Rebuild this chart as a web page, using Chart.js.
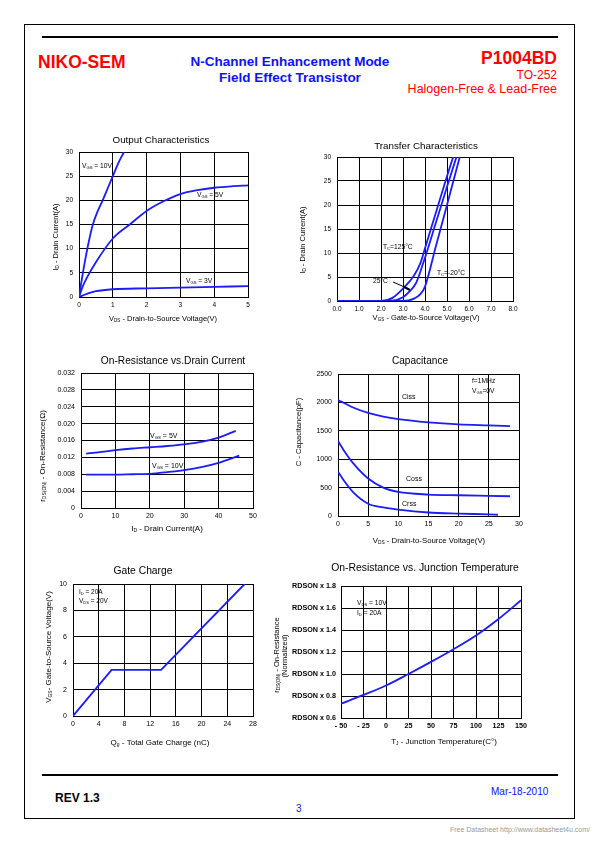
<!DOCTYPE html>
<html><head><meta charset="utf-8">
<script src="https://cdn.jsdelivr.net/npm/chart.js@4.4.1/dist/chart.umd.min.js"></script>
<style>
html,body{margin:0;padding:0;background:#fff;}
#page{position:relative;width:595px;height:842px;overflow:hidden;font-family:"Liberation Sans",Arial,sans-serif;}
.abs{position:absolute;white-space:nowrap;line-height:1;}
canvas{position:absolute;}
</style></head><body><div id="page">
<div class="abs" style="left:24px;top:24px;width:549px;height:793px;border:1px solid #000;"></div>
<div class="abs" style="left:42px;top:36px;width:516px;height:2px;background:#000;"></div>
<div class="abs" style="left:42px;top:774px;width:516px;height:2px;background:#000;"></div>
<div class="abs" style="left:38px;top:54px;font-size:17.5px;font-weight:bold;color:#ff0000;">NIKO-SEM</div>
<div class="abs" style="left:160px;width:260px;text-align:center;top:55px;font-size:13.5px;font-weight:bold;color:#1010ff;">N-Channel Enhancement Mode</div>
<div class="abs" style="left:160px;width:260px;text-align:center;top:71px;font-size:13.5px;font-weight:bold;color:#1010ff;">Field Effect Transistor</div>
<div class="abs" style="right:38px;top:50px;font-size:17.5px;font-weight:bold;color:#ff0000;">P1004BD</div>
<div class="abs" style="right:38px;top:69px;font-size:12px;color:#ff0000;">TO-252</div>
<div class="abs" style="right:38px;top:83px;font-size:12.5px;color:#ff0000;">Halogen-Free &amp; Lead-Free</div>
<div class="abs" style="left:55px;top:792px;font-size:12px;font-weight:bold;color:#000;">REV 1.3</div>
<div class="abs" style="left:296px;top:804px;font-size:10px;color:#1010ff;">3</div>
<div class="abs" style="left:491px;top:787px;font-size:10px;color:#1010ff;">Mar-18-2010</div>
<div class="abs" style="right:5px;top:826px;font-size:7px;color:#999;">Free Datasheet http://www.datasheet4u.com/</div>
</div>
<script>
// ---------- data ----------
// Output Characteristics
const outVds10 = [0, 0.1, 0.2, 0.3, 0.41, 0.55, 0.7, 0.85, 1.0, 1.15, 1.33];
const outId10  = [0, 4.4, 8.3, 11.8, 15, 17.7, 20, 22.5, 25, 27.5, 30];
const outVds5  = [0, 0.1, 0.25, 0.5, 1.0, 1.5, 2.0, 2.5, 3.0, 3.5, 4.0, 4.5, 5.0];
const outId5   = [0, 2, 4.2, 7.2, 12.1, 15, 17.8, 19.8, 21.3, 22.1, 22.6, 22.9, 23.1];
const outVds3  = [0, 0.25, 0.5, 1.0, 2.0, 3.0, 4.0, 5.0];
const outId3   = [0, 0.7, 1.2, 1.6, 1.8, 1.95, 2.1, 2.25];
// Transfer Characteristics
const trVgs125 = [0, 2.0, 2.5, 3.0, 3.5, 3.8, 4.0, 4.5, 5.0, 5.28];
const trId125  = [0, 0, 0.6, 2.6, 5.3, 8, 11, 18.5, 26, 30];
const trVgs25  = [0, 2.4, 3.0, 3.3, 3.6, 3.92, 4.5, 5.0, 5.43];
const trId25   = [0, 0, 0.8, 2.0, 3.8, 7.9, 16.4, 23.8, 30];
const trVgsM20 = [0, 3.0, 3.5, 3.8, 4.0, 4.5, 5.0, 5.58];
const trIdM20  = [0, 0, 0.5, 1.5, 3.0, 11.5, 20, 30];
// On-Resistance vs Drain Current
const rdsId5   = [1.5, 5, 10, 15, 20, 25, 30, 35, 40, 45];
const rdsVgs5  = [0.0129, 0.0132, 0.0137, 0.0141, 0.0144, 0.0147, 0.0151, 0.0157, 0.0167, 0.0183];
const rdsId10  = [1.5, 5, 10, 15, 20, 25, 30, 35, 40, 46];
const rdsVgs10 = [0.0079, 0.0079, 0.0079, 0.0080, 0.0081, 0.0085, 0.0090, 0.0097, 0.0107, 0.0124];
// Capacitance
const capVds   = [0, 1, 2.5, 5, 7.5, 10, 15, 20, 25, 28.5];
const cissPF   = [2040, 1990, 1910, 1815, 1750, 1705, 1648, 1612, 1594, 1582];
const cossPF   = [1320, 1150, 930, 660, 500, 424, 378, 365, 355, 348];
const crssVds  = [0, 1, 2.5, 5, 7.5, 10, 15, 20, 25, 26.5];
const crssPF   = [780, 620, 420, 215, 150, 112, 62, 42, 28, 22];
// Gate Charge
const gateQg   = [0, 6, 13.7, 26.7];
const gateVgs  = [0, 3.5, 3.5, 10];
// On-Resistance vs Junction Temperature
const tempTj   = [-50, -25, 0, 25, 50, 75, 100, 125, 150];
const tempRn   = [0.73, 0.81, 0.895, 1.0, 1.11, 1.225, 1.35, 1.5, 1.67];

// ---------- drawing helpers ----------
const FONT = '"Liberation Sans", Arial, sans-serif';
const BLUE = 'rgb(28,28,245)';
const page = document.getElementById('page');

function richParse(s){
  const out=[]; const re=/_\{([^}]*)\}/g; let last=0, m;
  while((m=re.exec(s))){ if(m.index>last) out.push([s.slice(last,m.index),false]); out.push([m[1],true]); last=re.lastIndex; }
  if(last<s.length) out.push([s.slice(last),false]);
  return out;
}
function drawRich(ctx, s, x, y, size, opt){
  opt = opt||{};
  const segs = richParse(s);
  const w = opt.bold ? 'bold ' : '';
  const sub = size*0.62;
  let total = 0;
  segs.forEach(([t,isSub])=>{ ctx.font = w+(isSub?sub:size)+'px '+FONT; total += ctx.measureText(t).width; });
  ctx.save();
  ctx.translate(x,y);
  if(opt.rot) ctx.rotate(-Math.PI/2);
  let cx = opt.align==='center' ? -total/2 : (opt.align==='right' ? -total : 0);
  ctx.fillStyle = opt.color || '#000';
  ctx.textBaseline = 'middle'; ctx.textAlign = 'left';
  segs.forEach(([t,isSub])=>{ ctx.font = w+(isSub?sub:size)+'px '+FONT; ctx.fillText(t, cx, isSub ? size*0.22 : 0); cx += ctx.measureText(t).width; });
  ctx.restore();
}
const decoPlugin = {
  id:'deco',
  afterDraw(chart, args, opts){
    const ctx = chart.ctx, ox = opts.ox, oy = opts.oy;
    (opts.lines||[]).forEach(l=>{
      ctx.save(); ctx.strokeStyle='#000'; ctx.lineWidth=l.w||1; ctx.beginPath();
      ctx.moveTo(l.x1-ox,l.y1-oy); ctx.lineTo(l.x2-ox,l.y2-oy); ctx.stroke(); ctx.restore();
    });
    (opts.texts||[]).forEach(t=>drawRich(ctx, t.t, t.x-ox, t.y-oy, t.s||7, t));
  }
};

function axis(a, fit){
  return {
    type:'linear', min:a.min, max:a.max,
    ticks:{ stepSize:a.step, autoSkip:false, maxRotation:0, color:'#000', padding:a.pad,
            font:{ family:FONT, size:a.fs||6.5, weight:a.bold?'bold':'normal' },
            callback: a.fmt || (v=>String(v)) },
    grid:{ color:'#000', lineWidth:1, drawTicks:false },
    border:{ color:'#000', width:1 },
    afterFit: fit
  };
}

function makeChart(spec){
  const yw = spec.yw||60, pt = 30, pr = 14, xh = 34;
  const [L,T,R,B] = spec.plot;
  const cx = L-yw, cy = T-pt, W = R-L+yw+pr, H = B-T+pt+xh;
  const cv = document.createElement('canvas');
  cv.width = W; cv.height = H;
  cv.style.left = cx+'px'; cv.style.top = cy+'px'; cv.style.width = W+'px'; cv.style.height = H+'px';
  page.appendChild(cv);
  new Chart(cv, {
    type:'line',
    data:{ datasets: spec.series.map(d=>({
      data: d.x.map((v,i)=>({x:v, y:d.y[i]})),
      borderColor: BLUE, borderWidth: 1.8, pointRadius: 0, fill: false,
      cubicInterpolationMode: d.straight ? 'default' : 'monotone', tension: 0
    })) },
    options:{
      responsive:false, animation:false, devicePixelRatio:1,
      layout:{ padding:{ left:0, top:pt, right:pr, bottom:0 } },
      plugins:{ legend:{display:false}, tooltip:{enabled:false},
        deco:{ ox:cx, oy:cy, texts:spec.texts, lines:spec.lines||[] } },
      scales:{
        x: axis(Object.assign({pad:4}, spec.x), s=>{ s.height = xh; }),
        y: axis(Object.assign({pad:6}, spec.y), s=>{ s.width = yw; })
      }
    },
    plugins:[decoPlugin]
  });
}

// ---------- charts ----------
makeChart({
  plot:[79,152,248,297],
  x:{min:0,max:5,step:1}, y:{min:0,max:30,step:5},
  series:[{x:outVds10,y:outId10},{x:outVds5,y:outId5},{x:outVds3,y:outId3}],
  texts:[
    {t:'Output Characteristics', x:161, y:140, s:9.8, align:'center'},
    {t:'V_{DS} - Drain-to-Source Voltage(V)', x:163, y:319, s:7.5, align:'center'},
    {t:'I_{D} - Drain Current(A)', x:56, y:237, s:7.5, align:'center', rot:true},
    {t:'V_{GS} = 10V', x:82, y:166, s:6.7},
    {t:'V_{GS} = 5V', x:197, y:195, s:6.7},
    {t:'V_{GS} = 3V', x:186, y:281, s:6.7}
  ]
});

makeChart({
  plot:[337,157,513,301],
  x:{min:0,max:8,step:1,fmt:v=>v.toFixed(1)}, y:{min:0,max:30,step:5},
  series:[{x:trVgs125,y:trId125},{x:trVgs25,y:trId25},{x:trVgsM20,y:trIdM20}],
  texts:[
    {t:'Transfer Characteristics', x:426, y:146, s:9.8, align:'center'},
    {t:'V_{GS} - Gate-to-Source Voltage(V)', x:426, y:318, s:7.5, align:'center'},
    {t:'I_{D} - Drain Current(A)', x:303, y:240, s:7.5, align:'center', rot:true},
    {t:'T_{C}=125°C', x:383, y:247, s:6.7},
    {t:'T_{C}=-20°C', x:437, y:273, s:6.7},
    {t:'25°C', x:373, y:281, s:6.7}
  ],
  lines:[{x1:393,y1:282,x2:409,y2:289,w:1},{x1:404,y1:287,x2:410,y2:290,w:2}]
});

makeChart({
  plot:[81,373,253,508],
  x:{min:0,max:50,step:10,fs:7}, y:{min:0,max:0.032,step:0.004,fs:7,fmt:v=>(Math.abs(v)<1e-9?'0':v.toFixed(3))},
  series:[{x:rdsId5,y:rdsVgs5},{x:rdsId10,y:rdsVgs10}],
  texts:[
    {t:'On-Resistance vs.Drain Current', x:173, y:361, s:10.2, align:'center'},
    {t:'I_{D} - Drain Current(A)', x:167, y:529, s:8, align:'center'},
    {t:'r_{DS(ON)} - On-Resistance(Ω)', x:43, y:456, s:8, align:'center', rot:true},
    {t:'V_{GS} = 5V', x:150, y:436, s:7},
    {t:'V_{GS} = 10V', x:152, y:466, s:7}
  ]
});

makeChart({
  plot:[338,374,519,516],
  x:{min:0,max:30,step:5,fs:7}, y:{min:0,max:2500,step:500,fs:7},
  series:[{x:capVds,y:cissPF},{x:capVds,y:cossPF},{x:crssVds,y:crssPF}],
  texts:[
    {t:'Capacitance', x:420, y:361, s:10.1, align:'center'},
    {t:'V_{DS} - Drain-to-Source Voltage(V)', x:429, y:541, s:7.8, align:'center'},
    {t:'C - Capacitance(pF)', x:299, y:432, s:7.6, align:'center', rot:true},
    {t:'Ciss', x:402, y:397, s:7},
    {t:'Coss', x:406, y:479, s:7},
    {t:'Crss', x:402, y:504, s:7},
    {t:'f=1MHz', x:472, y:381, s:6.7},
    {t:'V_{GS}=0V', x:472, y:391, s:6.7}
  ]
});

makeChart({
  plot:[73,584,253,716],
  x:{min:0,max:28,step:4,fs:7}, y:{min:0,max:10,step:2,fs:7},
  series:[{x:gateQg,y:gateVgs,straight:true}],
  texts:[
    {t:'Gate Charge', x:143, y:571, s:10.3, align:'center'},
    {t:'Q_{g} - Total Gate Charge (nC)', x:160, y:743, s:8, align:'center'},
    {t:'V_{GS}- Gate-to-Source Voltage(V)', x:49, y:647, s:8, align:'center', rot:true},
    {t:'I_{D} = 20A', x:79, y:592, s:6.5},
    {t:'V_{DS} = 20V', x:79, y:601, s:6.5}
  ]
});

makeChart({
  plot:[341,586,521,718], yw:72,
  x:{min:-50,max:150,step:25,fs:7.2,bold:true,fmt:v=>(v<0?'- '+Math.abs(v):String(v))},
  y:{min:0.6,max:1.8,step:0.2,fs:7.2,bold:true,pad:5,fmt:v=>'RDSON x '+v.toFixed(1)},
  series:[{x:tempTj,y:tempRn}],
  texts:[
    {t:'On-Resistance vs. Junction Temperature', x:425, y:568, s:10.4, align:'center'},
    {t:'T_{J} - Junction Temperature(C°)', x:444, y:742, s:8, align:'center'},
    {t:'r_{DS(ON)} - On-Resistance', x:277, y:655, s:7.5, align:'center', rot:true},
    {t:'(Normalized)', x:285, y:656, s:7.5, align:'center', rot:true},
    {t:'V_{DS} = 10V', x:357, y:603, s:6.7},
    {t:'I_{D} = 20A', x:357, y:613, s:6.7}
  ]
});
</script>
</body></html>
